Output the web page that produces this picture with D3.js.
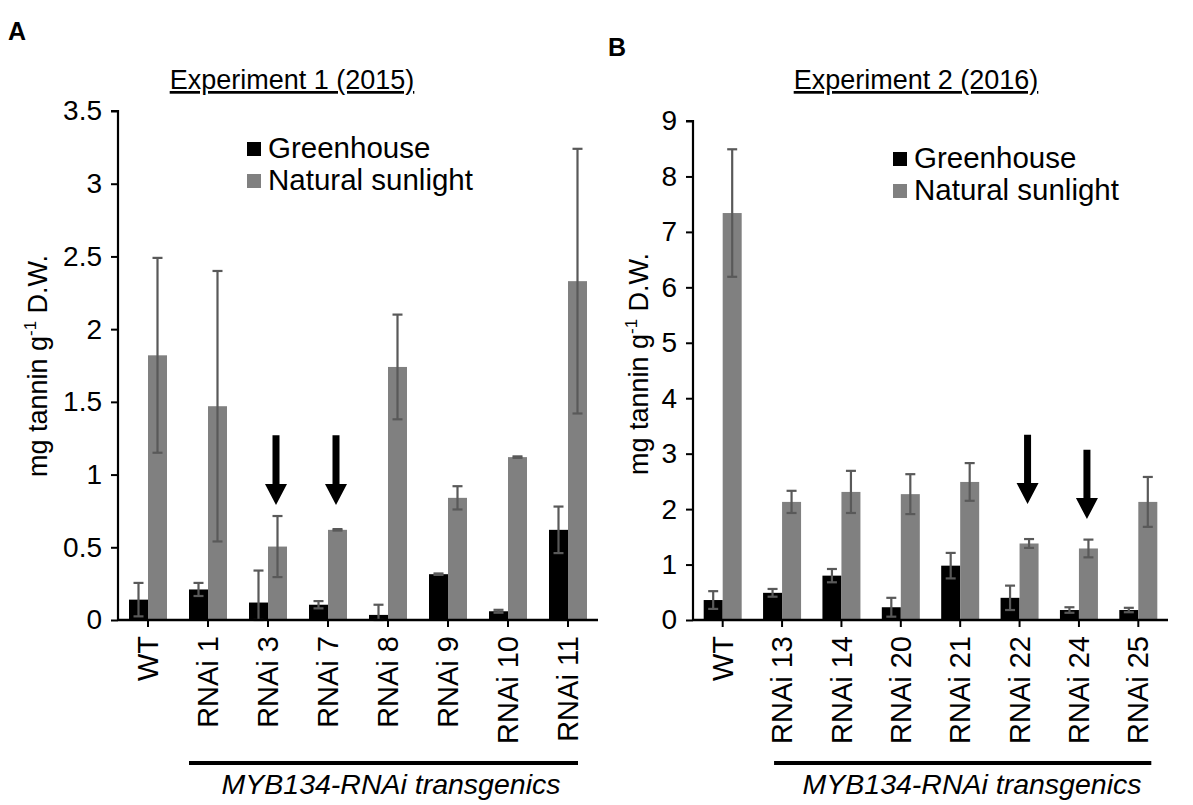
<!DOCTYPE html>
<html>
<head>
<meta charset="utf-8">
<script src="https://cdn.jsdelivr.net/npm/d3@7"></script>
<style>
  body { margin: 0; background: #fff; }
  svg { display: block; font-family: "Liberation Sans", Arial, sans-serif; }
</style>
</head>
<body>
<div id="chart"></div>
<script>
// Experiment 1 (2015)
const categoriesA = ['WT', 'RNAi 1', 'RNAi 3', 'RNAi 7', 'RNAi 8', 'RNAi 9', 'RNAi 10', 'RNAi 11'];
const greenhouseA = [0.14, 0.21, 0.12, 0.105, 0.035, 0.315, 0.06, 0.62];
const greenhouseErrA = [0.115, 0.045, 0.22, 0.025, 0.07, 0.005, 0.01, 0.16];
const sunlightA = [1.82, 1.47, 0.505, 0.62, 1.74, 0.84, 1.12, 2.33];
const sunlightErrA = [0.67, 0.93, 0.21, 0.005, 0.36, 0.08, 0.005, 0.91];
const ticksA = [0, 0.5, 1, 1.5, 2, 2.5, 3, 3.5];
const arrowsA = [['RNAi 3', 1.27, 0.79], ['RNAi 7', 1.27, 0.79]];

// Experiment 2 (2016)
const categoriesB = ['WT', 'RNAi 13', 'RNAi 14', 'RNAi 20', 'RNAi 21', 'RNAi 22', 'RNAi 24', 'RNAi 25'];
const greenhouseB = [0.36, 0.49, 0.80, 0.23, 0.98, 0.40, 0.18, 0.18];
const greenhouseErrB = [0.16, 0.07, 0.12, 0.17, 0.23, 0.22, 0.05, 0.04];
const sunlightB = [7.34, 2.13, 2.31, 2.27, 2.49, 1.38, 1.29, 2.13];
const sunlightErrB = [1.15, 0.2, 0.38, 0.36, 0.34, 0.08, 0.16, 0.45];
const ticksB = [0, 1, 2, 3, 4, 5, 6, 7, 8, 9];
const arrowsB = [['RNAi 22', 3.34, 2.09], ['RNAi 24', 3.07, 1.82]];

const seriesNames = ['Greenhouse', 'Natural sunlight'];
const seriesColors = ['#000000', '#808080'];

const width = 1193;
const height = 805;

const svg = d3.select('#chart')
  .append('svg')
  .attr('width', width)
  .attr('height', height);

function drawPanel(p) {
  const g = svg.append('g');

  const x = d3.scaleBand().domain(p.categories).range([p.left, p.right]);
  const y = d3.scaleLinear().domain([0, p.max]).range([p.bottom, p.top]);
  const bw = 19;
  const mid = (c) => x(c) + x.bandwidth() / 2;

  // panel letter
  g.append('text')
    .attr('x', p.letterX).attr('y', p.letterY)
    .attr('font-size', 25).attr('font-weight', 'bold')
    .text(p.letter);

  // title
  g.append('text')
    .attr('x', p.titleX).attr('y', 89)
    .attr('text-anchor', 'middle')
    .attr('font-size', 27)
    .attr('text-decoration', 'underline')
    .text(p.title);

  const rows = p.categories.map((c, i) => ({
    cat: c,
    vals: [p.greenhouse[i], p.sunlight[i]],
    errs: [p.greenhouseErr[i], p.sunlightErr[i]]
  }));

  // bars
  rows.forEach(r => {
    r.vals.forEach((v, k) => {
      const cx = mid(r.cat);
      g.append('rect')
        .attr('x', k === 0 ? cx - bw : cx).attr('y', y(v))
        .attr('width', bw).attr('height', y(0) - y(v))
        .attr('fill', seriesColors[k]);
    });
  });

  // error bars
  rows.forEach(r => {
    r.vals.forEach((v, k) => {
      const cx = mid(r.cat);
      const ex = k === 0 ? cx - bw / 2 : cx + bw / 2;
      const lo = Math.max(0, v - r.errs[k]);
      const hi = v + r.errs[k];
      const eg = g.append('g').attr('stroke', '#595959').attr('stroke-width', 2.2);
      eg.append('line').attr('x1', ex).attr('x2', ex).attr('y1', y(lo)).attr('y2', y(hi));
      eg.append('line').attr('x1', ex - 5).attr('x2', ex + 5).attr('y1', y(hi)).attr('y2', y(hi));
      eg.append('line').attr('x1', ex - 5).attr('x2', ex + 5).attr('y1', y(lo)).attr('y2', y(lo));
    });
  });

  // y axis
  const yAxis = g.append('g')
    .attr('transform', `translate(${p.left},0)`)
    .call(d3.axisLeft(y).tickValues(p.ticks).tickSize(7).tickPadding(9).tickFormat(d3.format('')));
  yAxis.select('.domain').attr('stroke-width', 2.2).attr('d', `M-7,${p.top}H0V${p.bottom}`);
  yAxis.selectAll('.tick line').attr('stroke-width', 2);
  yAxis.selectAll('.tick text')
    .attr('font-size', 28)
    .attr('font-family', 'Liberation Sans, Arial, sans-serif')
    .attr('fill', '#000');

  // x axis
  const xAxis = g.append('g')
    .attr('transform', `translate(0,${p.bottom})`)
    .call(d3.axisBottom(x).tickSize(7));
  xAxis.select('.domain').attr('stroke-width', 2.5).attr('d', `M${p.left},0H${p.right}`);
  xAxis.selectAll('.tick line').attr('stroke-width', 2);
  xAxis.selectAll('.tick text')
    .attr('font-size', 29)
    .attr('font-family', 'Liberation Sans, Arial, sans-serif')
    .attr('fill', '#000')
    .attr('text-anchor', 'end')
    .attr('dy', '0.35em')
    .attr('transform', 'translate(0,16) rotate(-90)')
    .attr('x', 0).attr('y', 0);

  // y label
  const yl = g.append('text')
    .attr('transform', `translate(${p.ylabelX},${p.ylabelY}) rotate(-90)`)
    .attr('text-anchor', 'middle')
    .attr('font-size', 27);
  yl.append('tspan').text('mg tannin g');
  yl.append('tspan').attr('font-size', 17).attr('dy', -11).text('-1');
  yl.append('tspan').attr('dy', 11).text(' D.W.');

  // legend
  seriesNames.forEach((name, k) => {
    const ly = p.legendY + k * 32;
    g.append('rect')
      .attr('x', p.legendX).attr('y', ly - 16)
      .attr('width', 14).attr('height', 14)
      .attr('fill', seriesColors[k]);
    g.append('text')
      .attr('x', p.legendX + 21).attr('y', ly)
      .attr('font-size', 29.5)
      .text(name);
  });

  // arrows
  p.arrows.forEach(([cat, top, tip]) => {
    const ax = mid(cat) + 8;
    const yt = y(top), yp = y(tip);
    const head = 21;
    g.append('path')
      .attr('d', `M${ax - 3.5},${yt}H${ax + 3.5}V${yp - head}H${ax + 11}L${ax},${yp}L${ax - 11},${yp - head}H${ax - 3.5}Z`)
      .attr('fill', '#000');
  });

  // group bar and label
  const gx1 = mid(p.categories[1]) + p.groupPad[0];
  const gx2 = mid(p.categories[p.categories.length - 1]) + p.groupPad[1];
  g.append('line')
    .attr('x1', gx1).attr('x2', gx2)
    .attr('y1', 763).attr('y2', 763)
    .attr('stroke', '#000').attr('stroke-width', 4);
  g.append('text')
    .attr('x', p.groupTextX).attr('y', 794)
    .attr('text-anchor', 'middle')
    .attr('font-size', 28.5)
    .attr('font-style', 'italic')
    .text('MYB134-RNAi transgenics');
}

drawPanel({
  letter: 'A', letterX: 8, letterY: 40,
  title: 'Experiment 1 (2015)', titleX: 292,
  categories: categoriesA, greenhouse: greenhouseA, greenhouseErr: greenhouseErrA,
  sunlight: sunlightA, sunlightErr: sunlightErrA,
  ticks: ticksA, max: 3.5, arrows: arrowsA,
  left: 118, right: 598, top: 111, bottom: 620,
  ylabelX: 47, ylabelY: 366,
  legendX: 247, legendY: 158,
  groupPad: [-19, 10], groupTextX: 391
});

drawPanel({
  letter: 'B', letterX: 608, letterY: 56,
  title: 'Experiment 2 (2016)', titleX: 916,
  categories: categoriesB, greenhouse: greenhouseB, greenhouseErr: greenhouseErrB,
  sunlight: sunlightB, sunlightErr: sunlightErrB,
  ticks: ticksB, max: 9, arrows: arrowsB,
  left: 693, right: 1168, top: 121, bottom: 620,
  ylabelX: 648, ylabelY: 364,
  legendX: 893, legendY: 168,
  groupPad: [-8, 13], groupTextX: 972
});
</script>
</body>
</html>
